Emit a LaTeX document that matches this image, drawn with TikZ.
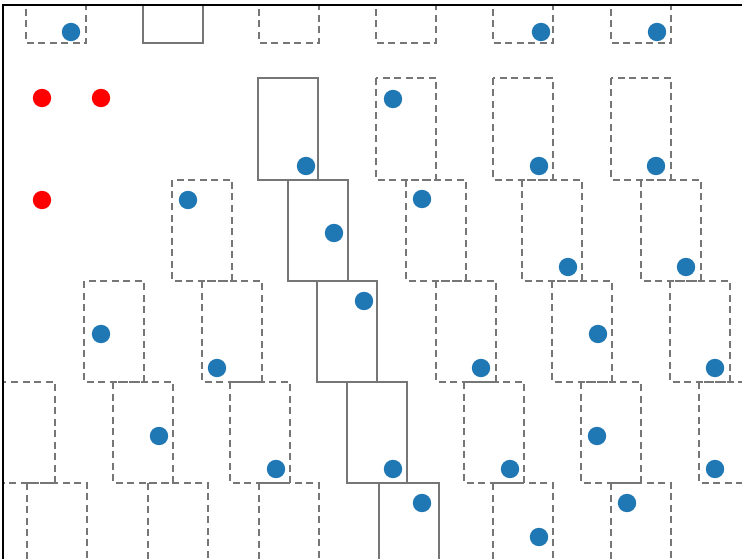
\documentclass[tikz,border=0pt]{standalone}
\definecolor{mplblue}{HTML}{1F77B4}
\definecolor{boxgray}{HTML}{767676}
\begin{document}
\begin{tikzpicture}[x=1pt,y=-1pt,
  cellbox/.style={draw=boxgray, line width=1.7pt, dash pattern=on 7pt off 4.5pt},
  pathbox/.style={draw=boxgray, line width=1.7pt},
  bdot/.style={fill=mplblue},
  rdot/.style={fill=red},
  axisline/.style={draw=black, line width=2.6pt}]
\useasboundingbox (0,0) rectangle (742,559);
\begin{scope}
\clip (3,5) rectangle (742,559);
% row 1
\foreach \x in {26,259,376,493,611} \draw[cellbox] (\x,-60) rectangle ++(60,103);
\draw[pathbox] (143,-60) rectangle ++(60,103);
% row 2
\foreach \x in {376,493,611} \draw[cellbox] (\x,78) rectangle ++(60,102);
\draw[pathbox] (258,78) rectangle ++(60,102);
% row 3
\foreach \x in {172,406,522,641} \draw[cellbox] (\x,180) rectangle ++(60,101);
\draw[pathbox] (288,180) rectangle ++(60,101);
% row 4
\foreach \x in {84,202,436,552,670} \draw[cellbox] (\x,281) rectangle ++(60,101);
\draw[pathbox] (317,281) rectangle ++(60,101);
% row 5
\foreach \x in {-5,113,230,464,581,699} \draw[cellbox] (\x,382) rectangle ++(60,101);
\draw[pathbox] (347,382) rectangle ++(60,101);
% row 6
\foreach \x in {27,148,259,493,611} \draw[cellbox] (\x,483) rectangle ++(60,105);
\draw[pathbox] (379,483) rectangle ++(60,105);
% red points
\foreach \p in {(42,98),(101,98),(42,200)} \fill[rdot] \p circle (9.2);
% blue points
\foreach \p in {(71,32),(541,32),(657,32),(306,166),(393,99),(539,166),(656,166),
  (188,200),(334,233),(422,199),(568,267),(686,267),
  (101,334),(217,368),(364,301),(481,368),(598,334),(715,368),
  (159,436),(276,469),(393,469),(510,469),(597,436),(715,469),
  (422,503),(539,537),(627,503)} \fill[bdot] \p circle (9.2);
\end{scope}
\coordinate (axbl) at (3,559);
\coordinate (axtl) at (3,5);
\coordinate (axtr) at (742,5);
\draw[axisline] (axbl) -- (axtl) -- (axtr);
\end{tikzpicture}
\end{document}
